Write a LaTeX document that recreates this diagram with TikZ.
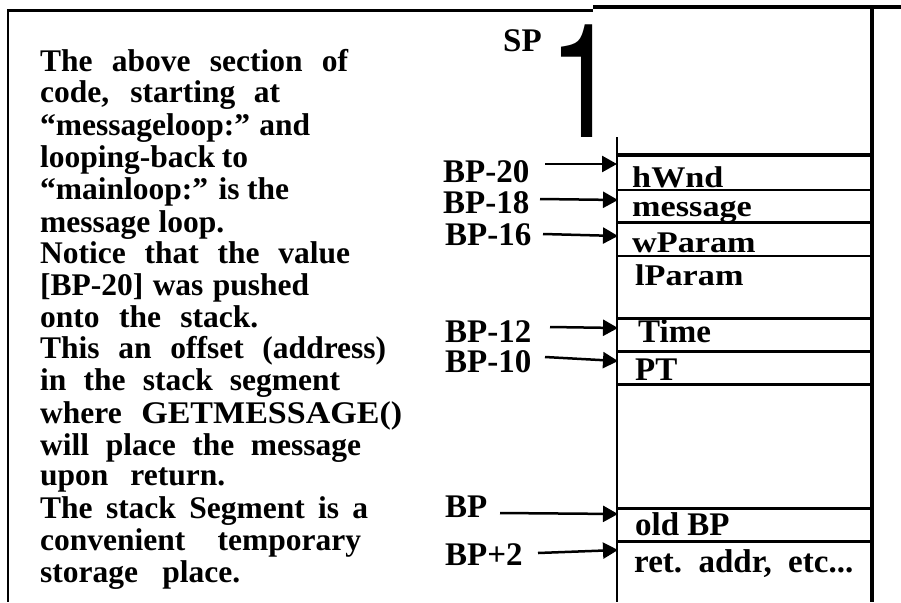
\documentclass[tikz,border=0pt]{standalone}
\usepackage{fontspec}
\setmainfont{Liberation Serif}
\newfontfamily\digitfont{TeX Gyre Heros}
\usetikzlibrary{arrows.meta}
\tikzset{
  lefttext/.style={anchor=base west,inner sep=0pt,font=\bfseries\fontsize{31.5}{32}\selectfont},
  lbl/.style={anchor=base west,inner sep=0pt,font=\bfseries\fontsize{33}{33}\selectfont},
  cell/.style={anchor=base west,inner sep=0pt,font=\bfseries\fontsize{30}{30}\selectfont,xscale=1.14},
  celltxt/.style={anchor=base west,inner sep=0pt,font=\bfseries\fontsize{33}{33}\selectfont},
  ptr/.style={line width=2.5pt,-{Triangle[length=15pt,width=16pt]}},
  frame/.style={line width=2.5pt},
}
\begin{document}
\begin{tikzpicture}[x=1pt,y=-1pt]
\useasboundingbox (0,0) rectangle (901,602);
% outer frame
\draw[frame] (7,10.5) -- (593,10.5);
\draw[line width=4pt] (593,7) -- (901,7);
\draw[frame] (8,12) -- (8,602);
\draw[line width=4pt] (872,7) -- (872,602);
% left text
\foreach \n/\y/\w/\t in {
  1/71/308/{The above section of},
  2/102/240/{code, starting at},
  3/135/270/{“messageloop:” and},
  4/167/208/{looping-back to},
  5/199/249/{“mainloop:” is the},
  6/232/184/{message loop.},
  7/263/310/{Notice that the value},
  8/295/269/{[BP-20] was pushed},
  9/327/218/{onto the stack.},
  10/358/346/{This an offset (address)},
  11/390/300/{in the stack segment},
  12/423/362/{where \scalebox{1.08}[1]{GETMESSAGE()}},
  13/455/321/{will place the message},
  14/485/185/{upon return.},
  15/518/328/{The stack Segment is a},
  16/550/321/{convenient temporary},
  17/582/200/{storage place.}}
  \node[lefttext] (t\n) at (40,\y) {\makebox[\w pt][s]{\t}};
% stack
\draw[frame] (617,137) -- (617,602);
\draw[line width=4pt] (617,155) -- (872,155);
\draw[line width=2pt] (617,190) -- (872,190);
\draw[line width=3pt] (617,222) -- (872,222);
\draw[line width=2pt] (617,256) -- (872,256);
\foreach \yy in {318,351,384,508,541}
  \draw[line width=3pt] (617,\yy) -- (872,\yy);
% SP marker
\node[lbl] (sp) at (503,52) {SP};
\node[anchor=base east,inner sep=0pt,font=\digitfont\fontsize{159}{159}\selectfont,xscale=0.8] (one) at (619,137) {1};
% cell contents
\node[cell] (hwnd) at (632,187) {hWnd};
\node[cell] (msg) at (632,216) {message};
\node[cell] (wp) at (632,252) {wParam};
\node[cell] (lp) at (635,285) {lParam};
\node[celltxt] (time) at (638,342) {Time};
\node[celltxt] (pt) at (635,380) {PT};
\node[celltxt] (oldbp) at (635,535) {old BP};
\node[celltxt] (ret) at (634,572) {ret.\ \ addr,\ \ etc...};
% pointer labels
\node[lbl] (bp20) at (443,182) {BP-20};
\node[lbl] (bp18) at (443,213) {BP-18};
\node[lbl] (bp16) at (445,245) {BP-16};
\node[lbl] (bp12) at (445,342) {BP-12};
\node[lbl] (bp10) at (445,372) {BP-10};
\node[lbl] (bp) at (445,517) {BP};
\node[lbl] (bp2) at (445,565) {BP+2};
% arrow ends
\coordinate (s20) at (545,164); \coordinate (e20) at (617,164);
\coordinate (s18) at (540,199); \coordinate (e18) at (618,200);
\coordinate (s16) at (543,234); \coordinate (e16) at (618,236);
\coordinate (s12) at (550,327); \coordinate (e12) at (618,328);
\coordinate (s10) at (545,357); \coordinate (e10) at (618,361);
\coordinate (s0) at (500,513); \coordinate (e0) at (618,514);
\coordinate (s2) at (538,553); \coordinate (e2) at (618,550);
\foreach \k in {20,18,16,12,10,0,2}
  \draw[ptr] (s\k) -- (e\k);
\end{tikzpicture}
\end{document}
